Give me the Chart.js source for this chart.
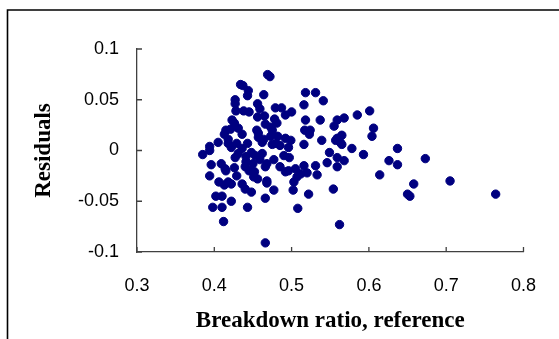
<!DOCTYPE html>
<html>
<head>
<meta charset="utf-8">
<script src="https://cdn.jsdelivr.net/npm/chart.js@4/dist/chart.umd.min.js"></script>
<style>
  html, body { margin: 0; padding: 0; background: #fff; }
  #wrap { width: 559px; height: 339px; }
</style>
</head>
<body>
<div id="wrap"><canvas id="myChart" width="559" height="339"></canvas></div>
<script>
// breakdown ratio (x) and residual (y)
const ratio = [
  0.469, 0.472, 0.434, 0.437, 0.464, 0.444, 0.443, 0.427, 0.427, 0.518,
  0.531, 0.541, 0.516, 0.456, 0.459, 0.428, 0.438, 0.445, 0.479, 0.487,
  0.500, 0.492, 0.465, 0.456, 0.601, 0.585, 0.568, 0.559, 0.537, 0.518,
  0.423, 0.426, 0.481, 0.466, 0.555, 0.606, 0.431, 0.421, 0.415, 0.455,
  0.475, 0.517, 0.524, 0.436, 0.413, 0.523, 0.604, 0.565, 0.559, 0.557,
  0.457, 0.464, 0.462, 0.473, 0.482, 0.492, 0.499, 0.539, 0.563, 0.565,
  0.405, 0.418, 0.429, 0.443, 0.475, 0.485, 0.516, 0.394, 0.394, 0.436,
  0.496, 0.578, 0.637, 0.385, 0.549, 0.593, 0.462, 0.453, 0.427, 0.441,
  0.490, 0.497, 0.559, 0.673, 0.568, 0.626, 0.477, 0.546, 0.396, 0.409,
  0.441, 0.450, 0.468, 0.637, 0.531, 0.516, 0.559, 0.485, 0.440, 0.426,
  0.415, 0.414, 0.496, 0.505, 0.520, 0.512, 0.533, 0.614, 0.492, 0.394,
  0.429, 0.451, 0.456, 0.507, 0.503, 0.468, 0.468, 0.406, 0.418, 0.413,
  0.422, 0.436, 0.440, 0.705, 0.658, 0.502, 0.477, 0.448, 0.554, 0.522,
  0.650, 0.653, 0.764, 0.402, 0.410, 0.466, 0.422, 0.398, 0.410, 0.443,
  0.508, 0.412, 0.562, 0.466, 0.448, 0.459, 0.466, 0.445, 0.452, 0.431,
  0.422, 0.418, 0.473, 0.478, 0.480, 0.457
];
const residual = [
  0.0748, 0.0728, 0.065, 0.064, 0.055, 0.059, 0.054, 0.050, 0.046, 0.057,
  0.057, 0.049, 0.045, 0.046, 0.041, 0.039, 0.039, 0.038, 0.042, 0.042,
  0.038, 0.035, 0.034, 0.033, 0.039, 0.035, 0.032, 0.030, 0.030, 0.030,
  0.030, 0.027, 0.027, 0.026, 0.024, 0.022, 0.022, 0.021, 0.020, 0.020,
  0.020, 0.020, 0.020, 0.016, 0.016, 0.016, 0.014, 0.015, 0.012, 0.010,
  0.013, 0.011, 0.008, 0.014, 0.014, 0.012, 0.010, 0.010, 0.008, 0.006,
  0.008, 0.007, 0.007, 0.007, 0.006, 0.005, 0.006, 0.004, 0.000, 0.002,
  0.003, 0.002, 0.002, -0.004, -0.002, -0.004, -0.003, -0.005, -0.007, -0.006,
  -0.005, -0.007, -0.007, -0.008, -0.010, -0.010, -0.009, -0.012, -0.014, -0.013,
  -0.011, -0.013, -0.013, -0.014, -0.015, -0.015, -0.016, -0.016, -0.016, -0.017,
  -0.020, -0.018, -0.020, -0.018, -0.022, -0.023, -0.024, -0.024, -0.021, -0.025,
  -0.025, -0.026, -0.028, -0.026, -0.031, -0.030, -0.032, -0.031, -0.031, -0.034,
  -0.033, -0.033, -0.038, -0.030, -0.033, -0.039, -0.039, -0.041, -0.038, -0.043,
  -0.043, -0.045, -0.043, -0.045, -0.045, -0.047, -0.050, -0.056, -0.056, -0.056,
  -0.057, -0.070, -0.073, -0.091, -0.002, -0.009, -0.016, -0.020, -0.021, -0.003,
  0.003, 0.011, 0.023, 0.031, 0.007, 0.017
];
const xTicks = [0.3, 0.4, 0.5, 0.6, 0.7, 0.8];
const yTicks = [-0.1, -0.05, 0, 0.05, 0.1];

const points = ratio.map((x, i) => ({ x: x, y: residual[i] }));

// outer frame + short inward tick marks like the original
const framePlugin = {
  id: 'frame',
  beforeDraw(chart) {
    const ctx = chart.ctx;
    ctx.save();
    ctx.fillStyle = '#fff';
    ctx.fillRect(0, 0, chart.width, chart.height);
    ctx.strokeStyle = '#000';
    ctx.lineWidth = 1.6;
    ctx.beginPath();
    ctx.moveTo(7.5, chart.height);
    ctx.lineTo(7.5, 10);
    ctx.lineTo(chart.width, 10);
    ctx.stroke();
    ctx.restore();
  },
  afterDraw(chart) {
    const ctx = chart.ctx;
    const xs = chart.scales.x, ys = chart.scales.y;
    const a = chart.chartArea;
    ctx.save();
    ctx.strokeStyle = '#404040';
    ctx.lineWidth = 1.3;
    ctx.beginPath();
    xTicks.forEach(v => {
      const px = xs.getPixelForValue(v);
      ctx.moveTo(px, a.bottom);
      ctx.lineTo(px, a.bottom - 5);
    });
    yTicks.forEach(v => {
      const py = ys.getPixelForValue(v);
      ctx.moveTo(a.left, py);
      ctx.lineTo(a.left + 5, py);
    });
    ctx.stroke();
    ctx.restore();
  }
};

const ctx = document.getElementById('myChart');
const myChart = new Chart(ctx, {
  type: 'scatter',
  data: {
    datasets: [{
      label: 'Residuals',
      data: points,
      backgroundColor: '#000080',
      borderColor: '#000080',
      borderWidth: 1,
      pointRadius: 4.2
    }]
  },
  options: {
    responsive: false,
    animation: false,
    layout: { padding: { left: 0, top: 49, right: 35, bottom: 0 } },
    plugins: {
      legend: { display: false },
      tooltip: { enabled: false }
    },
    scales: {
      x: {
        type: 'linear',
        min: 0.3,
        max: 0.8,
        afterFit: (s) => { s.height = 87; },
        afterBuildTicks: (s) => { s.ticks = xTicks.map(v => ({ value: v })); },
        grid: { drawOnChartArea: false, drawTicks: false },
        border: { color: '#404040', width: 1.3 },
        ticks: {
          padding: 23,
          color: '#000',
          font: { family: 'Liberation Sans', size: 18 },
          callback: (v) => String(Math.round(v * 10) / 10)
        },
        title: {
          display: true,
          text: 'Breakdown ratio, reference',
          color: '#000',
          font: { family: 'Liberation Serif', size: 23, weight: 'bold' },
          padding: { bottom: 4 }
        }
      },
      y: {
        type: 'linear',
        min: -0.1,
        max: 0.1,
        afterFit: (s) => { s.width = 137; },
        afterBuildTicks: (s) => { s.ticks = yTicks.map(v => ({ value: v })); },
        grid: { drawOnChartArea: false, drawTicks: false },
        border: { color: '#404040', width: 1.3 },
        ticks: {
          padding: 18,
          color: '#000',
          font: { family: 'Liberation Sans', size: 18 },
          callback: (v) => String(Math.round(v * 100) / 100)
        },
        title: {
          display: true,
          text: 'Residuals',
          color: '#000',
          font: { family: 'Liberation Serif', size: 23, weight: 'bold' },
          padding: { top: 30 }
        }
      }
    }
  },
  plugins: [framePlugin]
});
</script>
</body>
</html>
